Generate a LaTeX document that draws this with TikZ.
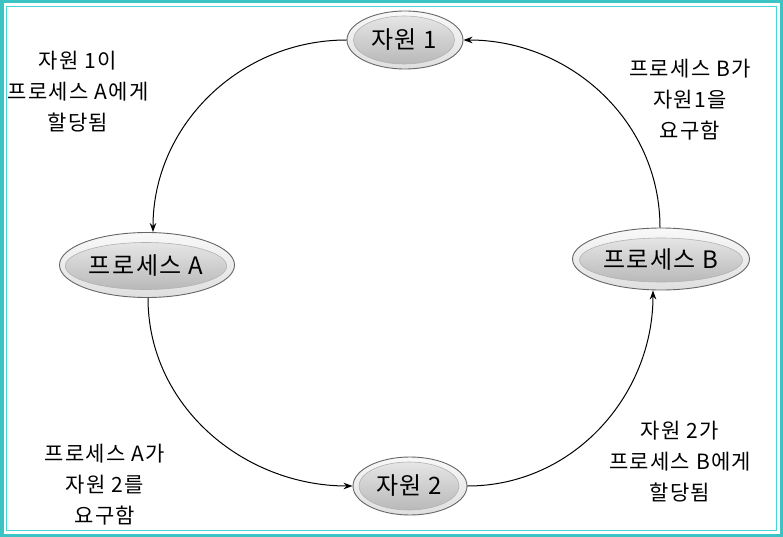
\documentclass[tikz,border=0pt]{standalone}
\usepackage{fontspec}
\newfontfamily\kr{Noto Sans CJK KR}
\newfontfamily\krw[LetterSpace=6]{Noto Sans CJK KR}
\usetikzlibrary{shapes.geometric,arrows.meta}
\definecolor{teal1}{RGB}{60,196,196}
\definecolor{cyan1}{RGB}{70,215,220}
\tikzset{
  outerell/.style={ellipse, draw=gray!80!black, line width=0.9pt, top color=gray!5, bottom color=gray!25, inner sep=0pt},
  innerell/.style={ellipse, draw=gray!60, line width=0.6pt, top color=gray!20, bottom color=gray!55, inner sep=0pt, font=\krw\fontsize{24}{28}\selectfont},
  lbl/.style={align=center, font=\krw\fontsize{21}{31}\selectfont, inner sep=0pt},
  conn/.style={line width=1pt, -{Stealth[length=9pt,width=6.5pt]}}
}
\begin{document}
\begin{tikzpicture}[x=1pt,y=-1pt]
\useasboundingbox (0,0) rectangle (783,537);
\fill[white] (0,0) rectangle (783,537);
\draw[teal1, line width=3.5pt] (1.75,1.75) rectangle (781.25,535.25);
\draw[cyan1, line width=1.8pt] (6.5,6.5) rectangle (776.5,530.5);
% resource 1
\node[outerell, minimum width=116pt, minimum height=58pt] (r1) at (405,40) {};
\node[innerell, minimum width=101pt, minimum height=48pt] (r1i) at (404,40) {자원 1};
% process A
\node[outerell, minimum width=175pt, minimum height=65pt] (pa) at (147,265) {};
\node[innerell, minimum width=147pt, minimum height=47pt] (pai) at (146,266) {프로세스 A};
% process B
\node[outerell, minimum width=177pt, minimum height=62pt] (pb) at (661,259) {};
\node[innerell, minimum width=147pt, minimum height=44pt] (pbi) at (661,260) {프로세스 B};
% resource 2
\node[outerell, minimum width=114pt, minimum height=58pt] (r2) at (410,486) {};
\node[innerell, minimum width=100pt, minimum height=48pt] (r2i) at (409,486) {자원 2};
% connectors
\draw[conn] (r1.west) to[out=180,in=90] ([xshift=6pt]pa.north);
\draw[conn] ([xshift=1pt]pa.south) to[out=-90,in=180] (r2.west);
\draw[conn] (r2.east) to[out=0,in=-90] ([xshift=-8pt]pb.south);
\draw[conn] ([xshift=-1pt]pb.north) to[out=90,in=0] (r1.east);
% labels
\node[lbl] (t1) at (78,92) {자원 1이\\프로세스 A에게\\할당됨};
\node[lbl] (t2) at (690,100) {프로세스 B가\\자원1을\\요구함};
\node[lbl] (t3) at (105,485) {프로세스 A가\\자원 2를\\요구함};
\node[lbl] (t4) at (680,462) {자원 2가\\프로세스 B에게\\할당됨};
\end{tikzpicture}
\end{document}
